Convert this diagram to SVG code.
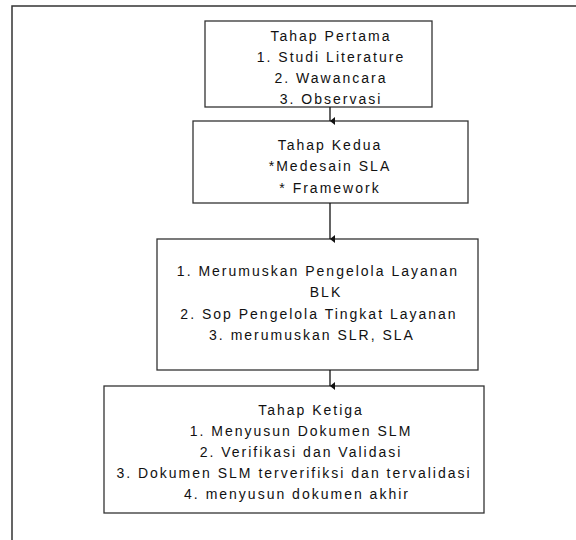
<svg xmlns="http://www.w3.org/2000/svg" width="576" height="540" viewBox="0 0 576 540">
<defs>
<style>
.box{fill:#fff;stroke:#333;stroke-width:1.3}
.t{font-family:"Liberation Sans",Arial,sans-serif;font-size:14px;letter-spacing:2px;fill:#111;text-anchor:middle}
.c{stroke:#111;stroke-width:1.3;fill:none}
</style>
<marker id="ah" markerWidth="8" markerHeight="8" refX="4" refY="7" orient="auto" markerUnits="userSpaceOnUse" viewBox="0 0 8 8">
<path d="M0,2 L8,2 L4,7 Z" fill="#111"/>
</marker>
</defs>
<rect width="576" height="540" fill="#fff"/>
<path d="M12,540 V6 H576" fill="none" stroke="#333" stroke-width="1.5"/>
<g id="node1">
<rect class="box" x="205" y="21" width="227" height="86"/>
<text class="t" x="331" y="41">Tahap Pertama</text>
<text class="t" x="331" y="62">1. Studi Literature</text>
<text class="t" x="331" y="83">2. Wawancara</text>
<text class="t" x="331" y="104">3. Observasi</text>
</g>
<g id="node2">
<rect class="box" x="193" y="121" width="275" height="82"/>
<text class="t" x="330" y="150">Tahap Kedua</text>
<text class="t" x="330" y="171">*Medesain SLA</text>
<text class="t" x="330" y="193">* Framework</text>
</g>
<g id="node3">
<rect class="box" x="157" y="239" width="321" height="131"/>
<text class="t" x="318" y="276">1. Merumuskan Pengelola Layanan</text>
<text class="t" x="326" y="297">BLK</text>
<text class="t" x="319" y="319">2. Sop Pengelola Tingkat Layanan</text>
<text class="t" x="312" y="340">3. merumuskan SLR, SLA</text>
</g>
<g id="node4">
<rect class="box" x="104" y="386" width="380" height="127"/>
<text class="t" x="311" y="415">Tahap Ketiga</text>
<text class="t" x="301" y="436">1. Menyusun Dokumen SLM</text>
<text class="t" x="301" y="457">2. Verifikasi dan Validasi</text>
<text class="t" x="294" y="478">3. Dokumen SLM terverifiksi dan tervalidasi</text>
<text class="t" x="297" y="499">4. menyusun dokumen akhir</text>
</g>
<g id="connectors">
<line class="c" x1="330" y1="107" x2="330" y2="121" marker-end="url(#ah)"/>
<line class="c" x1="330" y1="203" x2="330" y2="239" marker-end="url(#ah)"/>
<line class="c" x1="330" y1="370" x2="330" y2="386" marker-end="url(#ah)"/>
</g>
</svg>
